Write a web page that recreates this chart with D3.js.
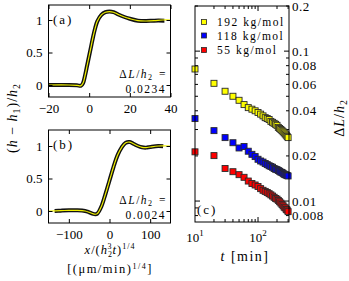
<!DOCTYPE html>
<html>
<head>
<meta charset="utf-8">
<script src="https://cdn.jsdelivr.net/npm/d3@7"></script>
<style>
  body { margin: 0; background: #fff; }
  svg { display: block; font-family: "Liberation Serif", serif; }
</style>
</head>
<body>
<svg id="chart" width="349" height="281"></svg>
<script>
// ---- panel (a) profile, dL/h2 = 0.0234
const profA_x = [-20, -10, -6, -4, -3, -2, -1, 0, 1, 2, 3, 4, 6, 8, 10, 12, 14, 17, 20, 24, 28, 32, 36, 40];
const profA_h = [0, 0, -0.005, -0.01, 0.03, 0.15, 0.3, 0.45, 0.6, 0.75, 0.88, 0.98, 1.08, 1.12, 1.13, 1.12, 1.09, 1.05, 1.02, 0.99, 0.985, 0.99, 1.0, 1.0];
const dataA_x = [-20, -10, -6, -4, -3, -2, -1, 0, 1, 2, 3, 4, 6, 8, 10, 12, 14, 17, 20, 24, 28, 32, 37];
const dataA_h = [0, 0, -0.005, -0.01, 0.03, 0.15, 0.3, 0.45, 0.6, 0.75, 0.88, 0.98, 1.08, 1.12, 1.13, 1.12, 1.09, 1.05, 1.02, 0.99, 0.985, 0.99, 0.99];

// ---- panel (b) profile, dL/h2 = 0.0024
const profB_x = [-150, -120, -100, -80, -60, -50, -40, -35, -30, -20, -10, 0, 10, 20, 30, 40, 50, 60, 70, 80, 90, 100, 120, 150];
const profB_h = [0, 0.005, 0.01, 0.01, 0, -0.02, -0.045, -0.05, -0.04, 0.07, 0.26, 0.47, 0.68, 0.86, 0.98, 1.05, 1.06, 1.03, 1.0, 0.98, 0.975, 0.985, 1.0, 1.0];
const dataB_x = [-135, -120, -100, -80, -60, -50, -40, -35, -30, -20, -10, 0, 10, 20, 30, 40, 50, 60, 70, 80, 90, 100, 120, 132];
const dataB_h = [0, 0.005, 0.01, 0.01, 0, -0.02, -0.045, -0.05, -0.04, 0.07, 0.26, 0.47, 0.68, 0.86, 0.98, 1.05, 1.06, 1.03, 1.0, 0.98, 0.975, 0.985, 1.0, 0.995];

// ---- panel (c) dL/h2 vs t
const times = [10, 20, 30, 40, 50, 60, 70, 80, 90, 100, 110, 120, 130, 140, 150, 160, 170, 180, 190, 200, 210, 220, 230, 240, 250, 260, 270, 280, 290, 300];
const dL_192 = [0.076, 0.061, 0.054, 0.050, 0.047, 0.044, 0.042, 0.041, 0.040, 0.039, 0.038, 0.037, 0.036, 0.0355, 0.035, 0.034, 0.0335, 0.033, 0.0325, 0.032, 0.031, 0.0305, 0.030, 0.0295, 0.029, 0.0285, 0.028, 0.0275, 0.027, 0.0265];
const dL_118 = [0.0355, 0.0295, 0.0265, 0.0245, 0.0226, 0.0231, 0.0215, 0.0205, 0.0198, 0.0190, 0.0185, 0.0182, 0.0178, 0.0175, 0.0172, 0.0170, 0.0168, 0.0165, 0.0163, 0.0162, 0.0160, 0.0158, 0.0156, 0.0155, 0.0153, 0.0151, 0.0150, 0.0149, 0.0148, 0.0147];
const dL_55 = [0.0213, 0.0201, 0.0165, 0.0157, 0.0150, 0.0144, 0.0136, 0.0131, 0.0128, 0.0125, 0.0121, 0.0118, 0.0116, 0.0114, 0.0112, 0.0110, 0.0108, 0.0106, 0.0104, 0.0103, 0.0101, 0.0099, 0.0097, 0.0095, 0.0093, 0.0091, 0.0090, 0.0088, 0.0087, 0.0085];
const seriesNames = ["192 kg/mol", "118 kg/mol", "55 kg/mol"];
const seriesColors = ["#ffff00", "#0000ff", "#ff0000"];

const yLogLabels = [0.2, 0.1, 0.08, 0.06, 0.04, 0.02, 0.01, 0.008];

const svg = d3.select("#chart");
const frameL = 48.5, frameR = 170.5;

function sub(t, s, extra) {
  t.append("tspan").attr("baseline-shift", "-30%").attr("font-size", "70%").text(s);
  if (extra) t.append("tspan").attr("dx", 1).text(extra);
}

function profilePanel(top, bottom, xDom, xTicks, px, ph, dx, dh, label, dl) {
  const x = d3.scaleLinear().domain(xDom).range([frameL, frameR]);
  const y0 = bottom - 12, y1 = y0 - 65; // 0 and 1 positions
  const y = d3.scaleLinear().domain([0, 1]).range([y0, y1]);
  const g = svg.append("g");

  const clip = "clip" + label;
  g.append("clipPath").attr("id", clip).append("rect")
    .attr("x", frameL).attr("y", top).attr("width", frameR - frameL).attr("height", bottom - top);

  const line = d3.line().x((d) => x(d[0])).y((d) => y(d[1])).curve(d3.curveCatmullRom);
  g.append("path").datum(d3.zip(dx, dh)).attr("clip-path", `url(#${clip})`)
    .attr("fill", "none").attr("stroke", "#111").attr("stroke-width", 4).attr("d", line);
  g.append("path").datum(d3.zip(px, ph)).attr("clip-path", `url(#${clip})`)
    .attr("fill", "none").attr("stroke", "#f0f000").attr("stroke-width", 1.2).attr("d", line);

  // axes with inward ticks
  g.append("g").attr("transform", `translate(0,${bottom})`)
    .call(d3.axisBottom(x).tickValues(xTicks).tickSize(-4).tickPadding(7))
    .call((a) => a.select(".domain").remove());
  g.append("g").attr("transform", `translate(0,${top})`)
    .call(d3.axisTop(x).tickValues(xTicks).tickSize(-4).tickFormat(""))
    .call((a) => a.select(".domain").remove());
  g.append("g").attr("transform", `translate(${frameL},0)`)
    .call(d3.axisLeft(y).tickValues([0, 0.5, 1]).tickSize(-4).tickPadding(6).tickFormat((d) => d === 0.5 ? "0.5" : d3.format("d")(d)))
    .call((a) => a.select(".domain").remove());
  g.append("g").attr("transform", `translate(${frameR},0)`)
    .call(d3.axisRight(y).tickValues([0, 0.5, 1]).tickSize(-4).tickFormat(""))
    .call((a) => a.select(".domain").remove());
  g.selectAll(".tick text").attr("font-family", "Liberation Serif").attr("font-size", 13).attr("fill", "#000");
  g.selectAll(".tick line").attr("stroke", "#000");

  g.append("rect").attr("x", frameL).attr("y", top).attr("width", frameR - frameL).attr("height", bottom - top)
    .attr("fill", "none").attr("stroke", "#000").attr("stroke-width", 1);

  g.append("text").attr("x", 53).attr("y", top + 19).attr("font-size", 13).attr("letter-spacing", 2).text(`(${label})`);

  const t1 = g.append("text").attr("x", 167).attr("y", bottom - 19).attr("text-anchor", "end")
    .attr("font-size", 11.5).attr("letter-spacing", 1.5);
  t1.append("tspan").text("Δ");
  t1.append("tspan").attr("font-style", "italic").text("L");
  t1.append("tspan").text("/");
  t1.append("tspan").attr("font-style", "italic").text("h");
  sub(t1, "2", " =");
  g.append("text").attr("x", 166).attr("y", bottom - 4).attr("text-anchor", "end")
    .attr("font-size", 11.5).attr("letter-spacing", 1.5).text(dl);
}

profilePanel(5, 97, [-20, 40], [-20, 0, 20, 40], profA_x, profA_h, dataA_x, dataA_h, "a", "0.0234");
profilePanel(130, 223, [-150, 150], [-100, 0, 100], profB_x, profB_h, dataB_x, dataB_h, "b", "0.0024");

// left axis label
const yl = svg.append("text").attr("transform", "translate(17,118) rotate(-90)")
  .attr("text-anchor", "middle").attr("font-size", 14).attr("letter-spacing", 1);
yl.append("tspan").text("(");
yl.append("tspan").attr("font-style", "italic").text("h");
yl.append("tspan").text(" − ");
yl.append("tspan").attr("font-style", "italic").text("h");
sub(yl, "1");
yl.append("tspan").attr("baseline-shift", "0").text(")/");
yl.append("tspan").attr("font-style", "italic").text("h");
sub(yl, "2");

// bottom label (a)/(b)
const xl = svg.append("text").attr("x", 110).attr("y", 254).attr("text-anchor", "middle")
  .attr("font-size", 12.5).attr("letter-spacing", 1);
xl.append("tspan").attr("font-style", "italic").text("x");
xl.append("tspan").text("/(");
xl.append("tspan").attr("font-style", "italic").text("h");
xl.append("tspan").attr("font-size", 8).attr("dy", 2.5).text("2");
xl.append("tspan").attr("font-size", 8).attr("dx", -5.5).attr("dy", -7.5).text("3");
xl.append("tspan").attr("font-style", "italic").attr("dy", 5).text("t");
xl.append("tspan").text(")");
xl.append("tspan").attr("font-size", 8).attr("dy", -5).text("1/4");
const xl2 = svg.append("text").attr("x", 110).attr("y", 273).attr("text-anchor", "middle")
  .attr("font-size", 12.5).attr("letter-spacing", 1.5);
xl2.append("tspan").text("[(μm/min)");
xl2.append("tspan").attr("font-size", 8).attr("dy", -4.5).text("1/4");
xl2.append("tspan").attr("dy", 4.5).text("]");

// ---- panel (c)
const cL = 195, cR = 289, cT = 6, cB = 222;
const xC = d3.scaleLog().domain([10, 310]).range([cL, cR]);
const yC = d3.scaleLog().domain([0.00725, 0.2]).range([cB, cT]);
const gc = svg.append("g");

const xMinor = [20, 30, 40, 50, 60, 70, 80, 90, 200, 300];
const yMinor = [0.008, 0.009, 0.02, 0.03, 0.04, 0.05, 0.06, 0.07, 0.08, 0.09, 0.2];
xMinor.forEach((v) => {
  gc.append("line").attr("x1", xC(v)).attr("x2", xC(v)).attr("y1", cB).attr("y2", cB - 3).attr("stroke", "#000");
  gc.append("line").attr("x1", xC(v)).attr("x2", xC(v)).attr("y1", cT).attr("y2", cT + 3).attr("stroke", "#000");
});
[100].forEach((v) => {
  gc.append("line").attr("x1", xC(v)).attr("x2", xC(v)).attr("y1", cB).attr("y2", cB - 5).attr("stroke", "#000");
  gc.append("line").attr("x1", xC(v)).attr("x2", xC(v)).attr("y1", cT).attr("y2", cT + 5).attr("stroke", "#000");
});
yMinor.forEach((v) => {
  gc.append("line").attr("x1", cL).attr("x2", cL + 3).attr("y1", yC(v)).attr("y2", yC(v)).attr("stroke", "#000");
  gc.append("line").attr("x1", cR).attr("x2", cR - 3).attr("y1", yC(v)).attr("y2", yC(v)).attr("stroke", "#000");
});
[0.01, 0.1].forEach((v) => {
  gc.append("line").attr("x1", cL).attr("x2", cL + 5).attr("y1", yC(v)).attr("y2", yC(v)).attr("stroke", "#000");
  gc.append("line").attr("x1", cR).attr("x2", cR - 5).attr("y1", yC(v)).attr("y2", yC(v)).attr("stroke", "#000");
});

gc.selectAll("text.ylab").data(yLogLabels).join("text").attr("class", "ylab")
  .attr("x", cR + 3).attr("y", (d) => yC(d)).attr("dy", "0.35em")
  .attr("font-size", 13).attr("letter-spacing", 0.5).text((d) => d);

[10, 100].forEach((v, i) => {
  const t = gc.append("text").attr("x", xC(v)).attr("y", 242).attr("text-anchor", "middle").attr("font-size", 13);
  t.append("tspan").text("10");
  t.append("tspan").attr("font-size", 9).attr("dy", -6).text(i + 1);
});

gc.append("clipPath").attr("id", "clipc").append("rect")
  .attr("x", cL - 4).attr("y", cT).attr("width", cR - cL + 8).attr("height", cB - cT + 4);

const seriesVals = [dL_192, dL_118, dL_55];
const ms = 6;
seriesVals.forEach((vals, i) => {
  gc.append("g").attr("clip-path", "url(#clipc)").selectAll("rect").data(d3.zip(times, vals)).join("rect")
    .attr("x", (d) => xC(d[0]) - ms / 2).attr("y", (d) => yC(d[1]) - ms / 2)
    .attr("width", ms).attr("height", ms)
    .attr("fill", seriesColors[i]).attr("stroke", "#2a2a2a").attr("stroke-width", 0.9);
});

gc.append("rect").attr("x", cL).attr("y", cT).attr("width", cR - cL).attr("height", cB - cT)
  .attr("fill", "none").attr("stroke", "#000").attr("stroke-width", 1);

// legend
const legY = [22, 35.5, 50];
seriesNames.forEach((name, i) => {
  gc.append("rect").attr("x", 201.5).attr("y", legY[i] - 2.5).attr("width", 5).attr("height", 5)
    .attr("fill", seriesColors[i]).attr("stroke", "#2a2a2a").attr("stroke-width", 0.8);
  gc.append("text").attr("x", 217).attr("y", legY[i] + 4).attr("font-size", 11.5).attr("letter-spacing", 1.5).text(name);
});

gc.append("text").attr("x", 197).attr("y", 214).attr("font-size", 13).attr("letter-spacing", 2).text("(c)");

const tl = svg.append("text").attr("x", 245).attr("y", 261).attr("text-anchor", "middle")
  .attr("font-size", 14).attr("letter-spacing", 1.5);
tl.append("tspan").attr("font-style", "italic").text("t");
tl.append("tspan").text(" [min]");

const rl = svg.append("text").attr("transform", "translate(344,118) rotate(-90)")
  .attr("text-anchor", "middle").attr("font-size", 14).attr("letter-spacing", 1);
rl.append("tspan").text("Δ");
rl.append("tspan").attr("font-style", "italic").text("L");
rl.append("tspan").text("/");
rl.append("tspan").attr("font-style", "italic").text("h");
sub(rl, "2");
</script>
</body>
</html>
